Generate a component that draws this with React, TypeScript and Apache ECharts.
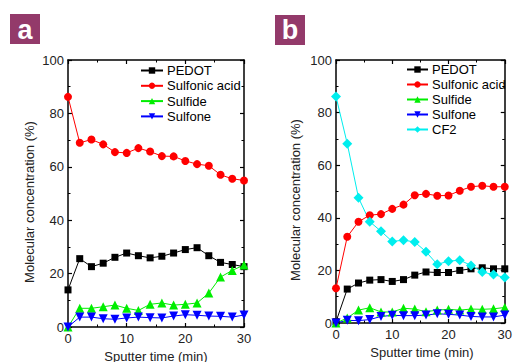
import React, { useEffect, useRef } from "react";
import * as echarts from "echarts";

const timeMin = [0, 2, 4, 6, 8, 10, 12, 14, 16, 18, 20, 22, 24, 26, 28, 30];

const pedotA = [13.9, 25.6, 22.6, 23.9, 26.1, 27.7, 26.7, 25.9, 26.5, 27.7, 29.0, 29.7, 26.7, 24.2, 23.4, 22.6];
const sulfonicA = [86.2, 69.0, 70.2, 68.4, 65.5, 65.2, 67.0, 65.7, 64.0, 63.9, 62.2, 61.0, 60.4, 57.0, 55.5, 54.9];
const sulfideA = [0, 7.0, 7.0, 7.6, 8.2, 7.0, 6.2, 8.5, 9.0, 8.2, 8.5, 9.0, 12.7, 18.7, 21.2, 23.2];
const sulfoneA = [0, 3.7, 3.7, 3.1, 2.9, 3.4, 3.7, 3.5, 3.4, 4.1, 4.6, 4.4, 4.1, 4.0, 3.7, 4.5];

const pedotB = [0.5, 12.9, 15.2, 16.3, 16.5, 15.8, 16.5, 18.2, 19.4, 19.2, 19.2, 20.0, 20.6, 21.0, 20.6, 20.6];
const sulfonicB = [13.2, 32.8, 38.5, 41.0, 41.4, 43.4, 45.0, 48.6, 49.1, 48.4, 48.5, 50.3, 51.8, 52.2, 51.8, 51.8];
const sulfideB = [0, 1.9, 4.9, 5.8, 4.2, 4.2, 5.6, 5.3, 4.3, 4.9, 5.2, 4.9, 5.3, 5.2, 5.4, 5.9];
const sulfoneB = [0, 1.0, 0.9, 1.3, 2.5, 2.9, 2.8, 2.8, 3.0, 3.5, 3.3, 3.0, 2.5, 2.3, 2.3, 3.0];
const cf2B = [86.1, 68.2, 47.6, 38.5, 34.9, 31.0, 31.5, 30.8, 27.1, 22.3, 23.5, 23.9, 21.9, 19.4, 18.4, 17.3];

const legendA = ["PEDOT", "Sulfonic acid", "Sulfide", "Sulfone"];
const legendB = ["PEDOT", "Sulfonic acid", "Sulfide", "Sulfone", "CF2"];

const FONT = "'Liberation Sans', Arial, sans-serif";

const pairs = (ys: number[]) => timeMin.map((t, i) => [t, ys[i]]);

const styleOf: Record<string, any> = {
  PEDOT: { color: "#000000", symbol: "rect", symbolSize: 7, symbolRotate: 0 },
  "Sulfonic acid": { color: "#ff0000", symbol: "circle", symbolSize: 8, symbolRotate: 0 },
  Sulfide: { color: "#00ee00", symbol: "triangle", symbolSize: 9, symbolRotate: 0 },
  Sulfone: { color: "#0000ff", symbol: "triangle", symbolSize: 9, symbolRotate: 180 },
  CF2: { color: "#00eeee", symbol: "diamond", symbolSize: 10, symbolRotate: 0 },
};

function mkSeries(name: string, ys: number[], axisIdx: number) {
  const s = styleOf[name];
  return {
    type: "line",
    name,
    xAxisIndex: axisIdx,
    yAxisIndex: axisIdx,
    data: pairs(ys),
    symbol: s.symbol,
    symbolSize: s.symbolSize,
    symbolRotate: s.symbolRotate,
    showAllSymbol: true,
    clip: false,
    lineStyle: { color: s.color, width: 1 },
    itemStyle: { color: s.color },
  };
}

function axisCommon(show: boolean, gridIndex: number, pos: string, isX: boolean) {
  return {
    type: "value",
    gridIndex,
    position: pos,
    min: 0,
    max: isX ? 30 : 100,
    interval: isX ? 10 : 20,
    axisLine: { show: true, onZero: false, lineStyle: { color: "#000", width: 1.5 } },
    axisTick: { show: true, inside: true, length: 4, lineStyle: { color: "#000", width: 1.2 } },
    minorTick: { show: true, splitNumber: 2, length: 2.5, lineStyle: { color: "#000", width: 1 } },
    splitLine: { show: false },
    minorSplitLine: { show: false },
    axisLabel: {
      show,
      color: "#222",
      fontSize: 13,
      fontFamily: FONT,
      margin: isX ? 5 : 4,
    },
  };
}

export default function App() {
  const ref = useRef<HTMLDivElement>(null);
  useEffect(() => {
    if (!ref.current) return;
    const chart = echarts.init(ref.current, undefined, { renderer: "svg" });
    const legendCommon = {
      orient: "vertical",
      itemWidth: 22,
      itemHeight: 8,
      itemGap: 1,
      selectedMode: false,
      textStyle: { fontSize: 13, color: "#000", fontFamily: FONT, padding: [0, 0, 0, -1] },
      padding: 0,
    };
    chart.setOption({
      animation: false,
      backgroundColor: "#ffffff",
      grid: [
        { left: 68, top: 60, width: 176, height: 267 },
        { left: 336, top: 60, width: 173, height: 263 },
      ],
      xAxis: [
        axisCommon(true, 0, "bottom", true),
        axisCommon(false, 0, "top", true),
        axisCommon(true, 1, "bottom", true),
        axisCommon(false, 1, "top", true),
      ],
      yAxis: [
        axisCommon(true, 0, "left", false),
        axisCommon(false, 0, "right", false),
        axisCommon(true, 1, "left", false),
        axisCommon(false, 1, "right", false),
      ],
      legend: [
        { ...legendCommon, left: 140, top: 64, itemGap: 2.3, data: legendA },
        { ...legendCommon, left: 406, top: 63, itemWidth: 21, itemGap: 2, data: legendB },
      ],
      series: [
        mkSeries("PEDOT", pedotA, 0),
        mkSeries("Sulfonic acid", sulfonicA, 0),
        mkSeries("Sulfide", sulfideA, 0),
        mkSeries("Sulfone", sulfoneA, 0),
        mkSeries("PEDOT", pedotB, 2),
        mkSeries("Sulfonic acid", sulfonicB, 2),
        mkSeries("Sulfide", sulfideB, 2),
        mkSeries("Sulfone", sulfoneB, 2),
        mkSeries("CF2", cf2B, 2),
      ],
      graphic: [
        { type: "rect", left: 10, top: 14, shape: { width: 30, height: 30 }, style: { fill: "#933a6a" } },
        {
          type: "text", x: 25, y: 30,
          style: { text: "a", fill: "#fff", fontSize: 27, fontWeight: "bold", fontFamily: FONT, align: "center", verticalAlign: "middle" },
        },
        { type: "rect", left: 275, top: 15, shape: { width: 30, height: 30 }, style: { fill: "#933a6a" } },
        {
          type: "text", x: 290, y: 30,
          style: { text: "b", fill: "#fff", fontSize: 27, fontWeight: "bold", fontFamily: FONT, align: "center", verticalAlign: "middle" },
        },
        {
          type: "text", x: 29, y: 202, rotation: Math.PI / 2,
          style: { text: "Molecular concentration (%)", fill: "#222", fontSize: 13, fontFamily: FONT, align: "center", verticalAlign: "middle" },
        },
        {
          type: "text", x: 295, y: 200, rotation: Math.PI / 2,
          style: { text: "Molecular concentration (%)", fill: "#222", fontSize: 13, fontFamily: FONT, align: "center", verticalAlign: "middle" },
        },
        {
          type: "text", x: 156, y: 356,
          style: { text: "Sputter time (min)", fill: "#222", fontSize: 13, fontFamily: FONT, align: "center", verticalAlign: "middle" },
        },
        {
          type: "text", x: 422, y: 352,
          style: { text: "Sputter time (min)", fill: "#222", fontSize: 13, fontFamily: FONT, align: "center", verticalAlign: "middle" },
        },
      ],
    });
    return () => chart.dispose();
  }, []);
  return (
    <div
      ref={ref}
      style={{ position: "absolute", left: 0, top: 0, width: 515, height: 362 }}
    />
  );
}
